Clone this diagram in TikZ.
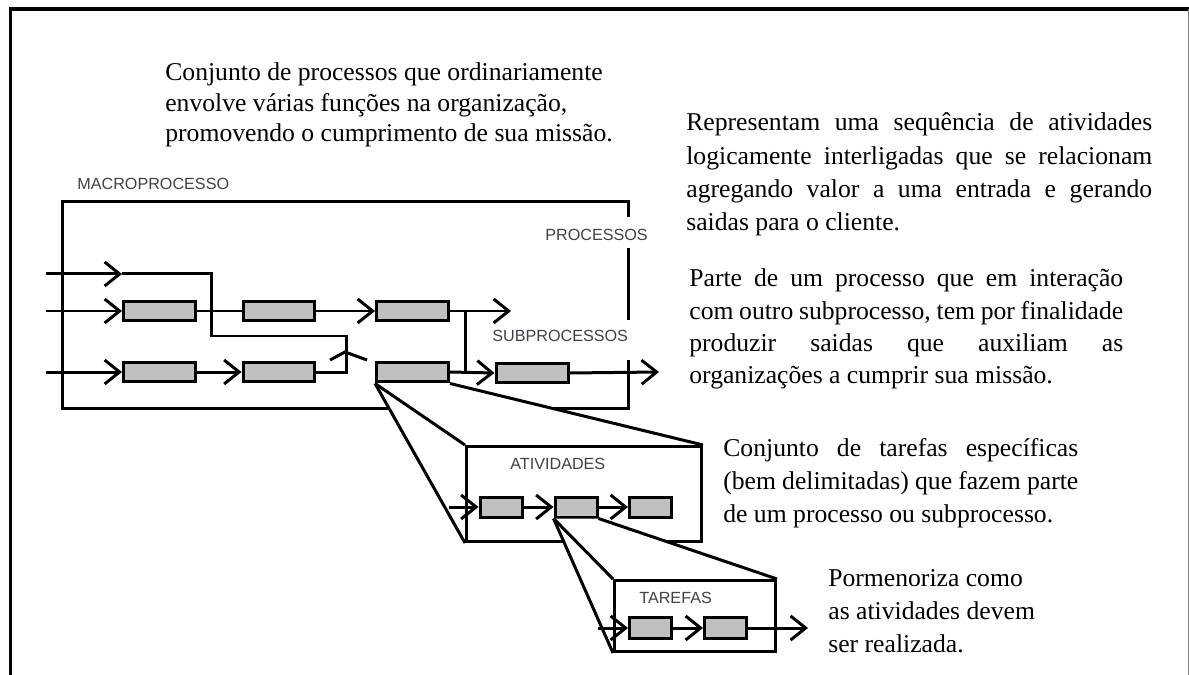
\documentclass[tikz,border=0pt]{standalone}
\usepackage{fontspec}
\setmainfont{Liberation Serif}
\newfontfamily\arial{Liberation Sans}
\usetikzlibrary{arrows.meta}
\definecolor{cinza}{RGB}{192,192,192}
\definecolor{corrotulo}{RGB}{64,64,72}

\begin{document}
\begin{tikzpicture}[x=0.02cm,y=-0.02cm]
\tikzset{linha/.style={line width=0.06cm},
  seta/.style={linha, -{Straight Barb[length=0.3cm,width=0.48cm]}},
  caixa/.style={draw, fill=cinza, linha, minimum width=1.44cm, minimum height=0.4cm, inner sep=0},
  caixinha/.style={caixa, minimum width=0.84cm},
  quadro/.style={draw, fill=white, linha, inner sep=0},
  rotulo/.style={font=\arial\fontsize{9.2}{11}\selectfont, text=corrotulo, inner sep=0, anchor=west},
  texto/.style={font=\fontsize{14.6}{17.6}\selectfont, inner sep=0, anchor=base west}}
\useasboundingbox (0,0) rectangle (1189,675);
\draw[line width=0.08cm] (10.5,675) -- (10.5,9.5) -- (1189,9.5);
\draw[gray, line width=0.02cm] (1188,9.5) -- (1188,675);

\node[texto, align=left] (t1) at (165,142) {Conjunto de processos que ordinariamente\\envolve várias funções na organização,\\promovendo o cumprimento de sua missão.};
\node[texto, text width=9.32cm, align=justify, font=\fontsize{14.6}{18.8}\selectfont] (t2) at (686,131) {Representam uma sequência de atividades\linebreak logicamente interligadas que se relacionam\linebreak agregando valor a uma entrada e gerando\linebreak saidas para o cliente.};
\node[texto, text width=8.68cm, align=justify, font=\fontsize{14.6}{18.4}\selectfont] (t3) at (689,287) {Parte de um processo que em interação\linebreak com outro subprocesso, tem por finalidade\linebreak produzir saidas que auxiliam as\linebreak organizações a cumprir sua missão.};
\node[texto, text width=7.1cm, align=justify, font=\fontsize{14.6}{18.8}\selectfont] (t4) at (723,456) {Conjunto de tarefas específicas\linebreak (bem delimitadas) que fazem parte\linebreak de um processo ou subprocesso.};
\node[texto, align=left, font=\fontsize{14.6}{18.5}\selectfont] (t5) at (828,652) {Pormenoriza como\\as atividades devem\\ser realizada.};

\node[rotulo] (macro) at (77,184) {MACROPROCESSO};
\node[rotulo] (proc) at (545,235) {PROCESSOS};
\node[rotulo] (subproc) at (492,336) {SUBPROCESSOS};
\draw[linha] (628,217) -- (628,202) -- (62,202) -- (62,408) -- (628,408) -- (628,360);
\draw[linha] (628,248) -- (628,320);

\node[caixa] (A1) at (159.5,311) {};
\node[caixa] (A2) at (279,311) {};
\node[caixa] (A3) at (412.5,311) {};
\node[caixa] (B1) at (159.5,372) {};
\node[caixa] (B2) at (279,372) {};
\node[caixa] (B3) at (412.5,372) {};
\node[caixa] (B4) at (532,373) {};

\coordinate (e1) at (46,274);
\coordinate (p1) at (122,274);
\coordinate (d1) at (211,336);
\coordinate (d2) at (346,336);
\draw[seta] (e1) -- (p1);
\draw[linha] (p1) -| (d1) -- (d2) |- (B2.east);
\draw[linha] (330,360) -- (345,352) -- (367,360);
\coordinate (e2) at (46,311);
\coordinate (s2) at (511,311);
\draw[seta] (e2) -- (A1.west);
\draw[linha] (A1.east) -- (A2.west);
\draw[seta] (A2.east) -- (A3.west);
\draw[seta] (A3.east) -- (s2);
\coordinate (j1) at (465,311);
\coordinate (j2) at (465,372);
\draw[linha] (j1) -- (j2);
\coordinate (e3) at (46,372);
\coordinate (s3) at (659,372);
\draw[seta] (e3) -- (B1.west);
\draw[seta] (B1.east) -- (B2.west);
\draw[seta] (B3.east) -- (B4.west);
\draw[seta] (B4.east) -- (s3);

\coordinate (anw) at (465,445);
\coordinate (ane) at (703,445);
\coordinate (asw) at (465,543);
\fill[white] (B3.south west) -- (B3.south east) -- (ane) -- (anw) -- (asw) -- cycle;
\draw[linha] (B3.south west) -- (anw);
\draw[linha] (B3.south west) -- (asw);
\draw[linha] (B3.south east) -- (ane);
\node[quadro, minimum width=4.7cm, minimum height=1.9cm] (ativ) at (584,494) {};
\node[rotulo] (atividades) at (510,464) {ATIVIDADES};
\node[caixinha] (C1) at (501,507) {};
\node[caixinha] (C2) at (576,507) {};
\node[caixinha] (C3) at (650.5,507) {};
\coordinate (e4) at (449,507);
\draw[seta] (e4) -- (C1.west);
\draw[seta] (C1.east) -- (C2.west);
\draw[seta] (C2.east) -- (C3.west);

\coordinate (tnw) at (613,579);
\coordinate (tne) at (777,579);
\coordinate (tsw) at (613,653);
\fill[white] (C2.south west) -- (C2.south east) -- (tne) -- (tnw) -- (tsw) -- cycle;
\draw[linha] (C2.south west) -- (tnw);
\draw[linha] (C2.south west) -- (tsw);
\draw[linha] (C2.south east) -- (tne);
\node[quadro, minimum width=3.22cm, minimum height=1.42cm] (taref) at (695,616) {};
\node[rotulo] (tarefas) at (639,598) {TAREFAS};
\node[caixinha, minimum height=0.42cm] (D1) at (650.5,628) {};
\node[caixinha, minimum height=0.42cm] (D2) at (725.5,628) {};
\coordinate (e5) at (598,628);
\coordinate (s5) at (808,628);
\draw[seta] (e5) -- (D1.west);
\draw[seta] (D1.east) -- (D2.west);
\draw[seta] (D2.east) -- (s5);
\end{tikzpicture}
\end{document}
